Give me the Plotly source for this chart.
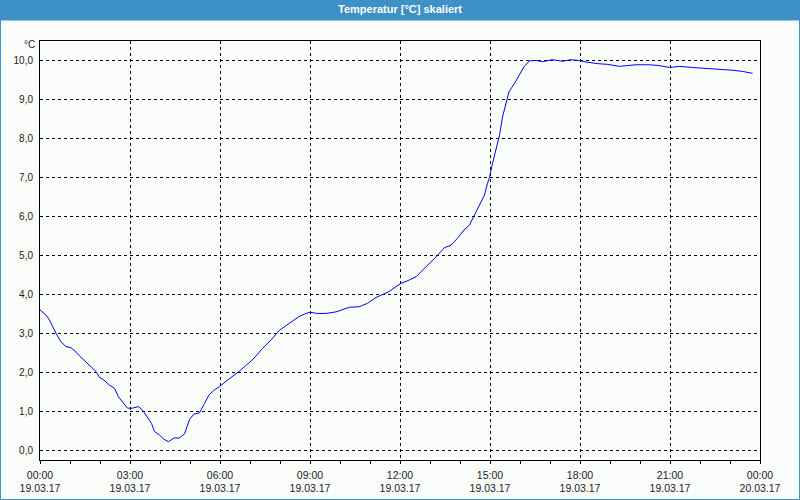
import plotly.graph_objects as go

# ---- data ----
times = ["00:00", "00:12", "00:19", "00:25", "00:32", "00:42", "00:52", "01:02", "01:08", "01:19",
         "01:32", "01:42", "01:52", "01:59", "02:08", "02:19", "02:29", "02:37", "02:49", "02:55",
         "03:05", "03:17", "03:25", "03:32", "03:43", "03:49", "03:59", "04:08", "04:17", "04:29",
         "04:38", "04:49", "04:59", "05:08", "05:19", "05:29", "05:38", "05:49", "05:59", "06:13",
         "06:25", "06:38", "06:53", "07:05", "07:25", "07:42", "07:59", "08:12", "08:25", "08:38",
         "08:52", "09:00", "09:15", "09:32", "09:52", "10:05", "10:19", "10:38", "10:55", "11:12",
         "11:25", "11:38", "11:52", "12:02", "12:19", "12:32", "12:42", "12:59", "13:15", "13:29",
         "13:42", "13:55", "14:08", "14:19", "14:29", "14:38", "14:49", "14:55", "14:59", "15:05",
         "15:12", "15:19", "15:25", "15:32", "15:38", "15:49", "15:59", "16:08", "16:19", "16:32",
         "16:45", "17:05", "17:25", "17:42", "17:59", "18:12", "18:35", "18:55", "19:19", "19:52",
         "20:19", "20:38", "20:59", "21:19", "21:45", "22:19", "22:45", "23:05", "23:25", "23:45"]
temps = [3.60, 3.47, 3.34, 3.17, 3.00, 2.78, 2.66, 2.63, 2.57, 2.42,
         2.27, 2.14, 2.02, 1.87, 1.80, 1.67, 1.59, 1.37, 1.16, 1.08,
         1.08, 1.12, 1.03, 0.90, 0.69, 0.48, 0.39, 0.28, 0.22, 0.32,
         0.31, 0.42, 0.79, 0.93, 0.96, 1.20, 1.42, 1.55, 1.63, 1.78,
         1.89, 2.02, 2.19, 2.32, 2.61, 2.83, 3.08, 3.19, 3.32, 3.43,
         3.51, 3.54, 3.51, 3.51, 3.55, 3.60, 3.67, 3.68, 3.77, 3.92,
         4.00, 4.07, 4.20, 4.28, 4.37, 4.45, 4.58, 4.79, 5.00, 5.20,
         5.26, 5.44, 5.65, 5.78, 6.03, 6.29, 6.55, 6.85, 7.00, 7.36,
         7.74, 8.08, 8.55, 8.94, 9.20, 9.41, 9.62, 9.84, 9.99, 10.00,
         9.97, 10.02, 9.98, 10.02, 10.00, 9.96, 9.92, 9.90, 9.85, 9.89,
         9.89, 9.87, 9.82, 9.85, 9.82, 9.79, 9.78, 9.75, 9.72, 9.67]
day = "2017-03-19"

x_tick_vals = ["2017-03-19 00:00", "2017-03-19 03:00", "2017-03-19 06:00", "2017-03-19 09:00",
               "2017-03-19 12:00", "2017-03-19 15:00", "2017-03-19 18:00", "2017-03-19 21:00",
               "2017-03-20 00:00"]
x_tick_text = ["00:00<br>19.03.17", "03:00<br>19.03.17", "06:00<br>19.03.17", "09:00<br>19.03.17",
               "12:00<br>19.03.17", "15:00<br>19.03.17", "18:00<br>19.03.17", "21:00<br>19.03.17",
               "00:00<br>20.03.17"]
y_tick_vals = [0, 1, 2, 3, 4, 5, 6, 7, 8, 9, 10]
y_tick_text = ["0,0", "1,0", "2,0", "3,0", "4,0", "5,0", "6,0", "7,0", "8,0", "9,0", "10,0"]

title_text = "Temperatur [°C] skaliert"
unit_text = "°C"

# ---- layout geometry ----
W, H = 800, 500
L, R, T, B = 40, 40, 41, 40
PW, PH = W - L - R, H - T - B
BAR = "#3D91C6"
BG = "#FBFDFB"
FONT = "Liberation Sans"
TXT = "#1A1A2A"


def px(xp):
    return (xp - L) / PW


def py(yp):
    return (H - B - yp) / PH


fig = go.Figure()
fig.add_trace(go.Scatter(
    x=[f"{day} {t}" for t in times], y=temps, mode="lines",
    line=dict(color="#0000FF", width=1), hoverinfo="x+y", showlegend=False))

fig.update_layout(
    width=W, height=H,
    margin=dict(l=L, r=R, t=T, b=B, pad=0, autoexpand=False),
    paper_bgcolor=BG, plot_bgcolor=BG,
    font=dict(family=FONT, size=10, color=TXT),
    showlegend=False,
    shapes=[
        dict(type="rect", xref="paper", yref="paper",
             x0=px(0), x1=px(W), y0=py(20.5), y1=py(0),
             fillcolor=BAR, line=dict(width=0), layer="above"),
        dict(type="rect", xref="paper", yref="paper",
             x0=px(0.5), x1=px(W - 0.5), y0=py(H - 0.5), y1=py(0.5),
             line=dict(color=BAR, width=1), fillcolor="rgba(0,0,0,0)", layer="above"),
    ],
    annotations=[
        dict(text=f"<b>{title_text}</b>", xref="paper", yref="paper",
             x=px(W / 2), y=py(9.5), xanchor="center", yanchor="middle",
             showarrow=False, font=dict(family=FONT, size=11, color="white")),
        dict(text=unit_text, xref="paper", yref="paper",
             x=px(37), y=py(45), xanchor="right", yanchor="middle",
             showarrow=False, font=dict(family=FONT, size=10, color=TXT)),
    ],
)

fig.update_xaxes(
    type="date", automargin=False,
    range=["2017-03-19 00:00", "2017-03-20 00:00"],
    tickmode="array", tickvals=x_tick_vals, ticktext=x_tick_text,
    ticks="outside", ticklen=3, tickwidth=1, tickcolor="black",
    ticklabelstandoff=2,
    minor=dict(ticks="outside", ticklen=3, tickwidth=1, tickcolor="black",
               dtick=3600000, tick0="2017-03-19 00:00", showgrid=False),
    showgrid=True, gridcolor="black", gridwidth=1, griddash="3px,3px",
    showline=True, linecolor="black", linewidth=1, mirror=True,
    zeroline=False, tickfont=dict(family=FONT, size=10.5, color=TXT),
    fixedrange=True,
)
fig.update_yaxes(
    automargin=False,
    range=[-0.25, 10.5],
    tickmode="array", tickvals=y_tick_vals, ticktext=y_tick_text,
    ticks="", ticklabelstandoff=4,
    showgrid=True, gridcolor="black", gridwidth=1, griddash="3px,3px",
    showline=True, linecolor="black", linewidth=1, mirror=True,
    zeroline=False, tickfont=dict(family=FONT, size=10, color=TXT),
    fixedrange=True,
)

fig.write_html("out.html", config={"displayModeBar": False})
